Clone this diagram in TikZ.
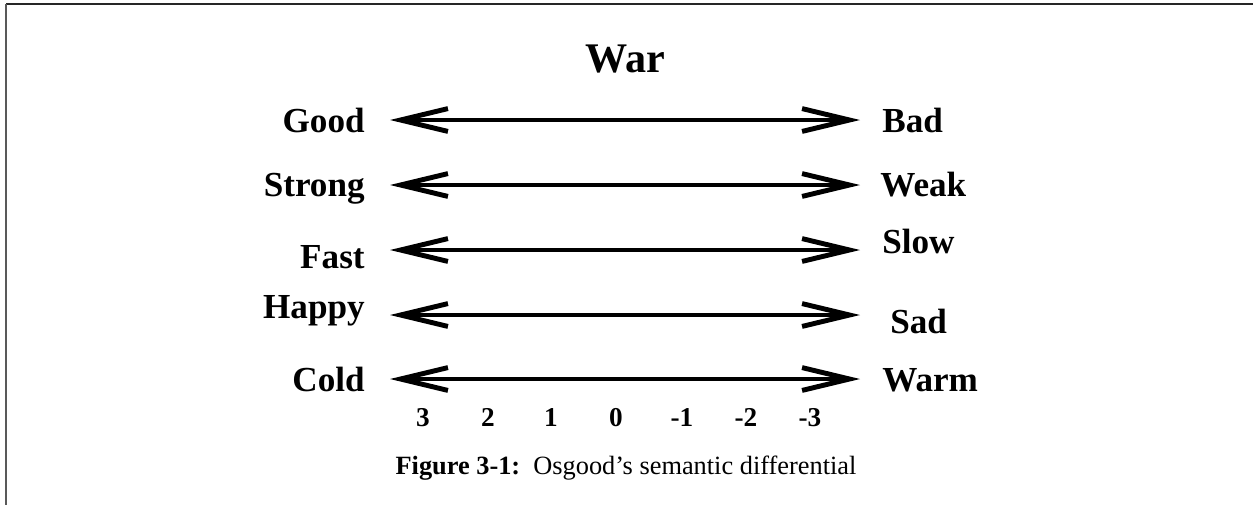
\documentclass[tikz,border=0pt]{standalone}
\usepackage{fontspec}
\setmainfont{Liberation Serif}
\usetikzlibrary{arrows.meta}

\tikzset{
  rating/.style={line width=2.3pt,
    {Straight Barb[length=27pt,width=13pt,line width=2.8pt]}-{Straight Barb[length=27pt,width=13pt,line width=2.8pt]}},
  pole/.style={font=\fontsize{20}{24}\selectfont\bfseries, inner sep=0pt},
  tick/.style={font=\fontsize{15.5}{18}\selectfont\bfseries, inner sep=0pt, anchor=base},
}

\begin{document}
\begin{tikzpicture}[x=0.02cm, y=-0.02cm]
        \useasboundingbox (0,0) rectangle (1253,505);

        % frame
        \coordinate (fl) at (6,4);
        \coordinate (fr) at (1253,4);
        \coordinate (fb) at (6,505);
        \draw[color=black!85, line width=1.3pt] (fl) -- (fr);
        \draw[color=black!65, line width=1.3pt] (fl) -- (fb);

        \node[font=\fontsize{24}{28}\selectfont\bfseries, inner sep=0pt, anchor=base] (war) at (625,72) {War};

        % left poles
        \node[pole, anchor=base east] (good) at (365,132) {Good};
        \node[pole, anchor=base east] (strong) at (365,196) {Strong};
        \node[pole, anchor=base east] (fast) at (365,268) {Fast};
        \node[pole, anchor=base east] (happy) at (365,318) {Happy};
        \node[pole, anchor=base east] (cold) at (365,391) {Cold};

        % right poles
        \node[pole, anchor=base west] (bad) at (882,132) {Bad};
        \node[pole, anchor=base west] (weak) at (880,196) {Weak};
        \node[pole, anchor=base west] (slow) at (882,253) {Slow};
        \node[pole, anchor=base west] (sad) at (890,333) {Sad};
        \node[pole, anchor=base west] (warm) at (882,391) {Warm};

        % scales
        \coordinate (a1) at (390,120); \coordinate (b1) at (860,120);
        \coordinate (a2) at (390,185); \coordinate (b2) at (860,185);
        \coordinate (a3) at (390,250); \coordinate (b3) at (860,250);
        \coordinate (a4) at (390,315); \coordinate (b4) at (860,315);
        \coordinate (a5) at (390,379); \coordinate (b5) at (860,379);
        \draw[rating] (a1) -- (b1);
        \draw[rating] (a2) -- (b2);
        \draw[rating] (a3) -- (b3);
        \draw[rating] (a4) -- (b4);
        \draw[rating] (a5) -- (b5);

        \node[tick] (p3) at (423,426) {3};
        \node[tick] (p2) at (488,426) {2};
        \node[tick] (p1) at (551,426) {1};
        \node[tick] (z0) at (616,426) {0};
        \node[tick] (m1) at (682,426) {-1};
        \node[tick] (m2) at (746,426) {-2};
        \node[tick] (m3) at (810,426) {-3};

        \node[font=\fontsize{15}{18}\selectfont, inner sep=0pt, anchor=base] (caption) at (626,474)
          {\textbf{Figure 3-1:}\ \ Osgood’s semantic differential};

\end{tikzpicture}
\end{document}
